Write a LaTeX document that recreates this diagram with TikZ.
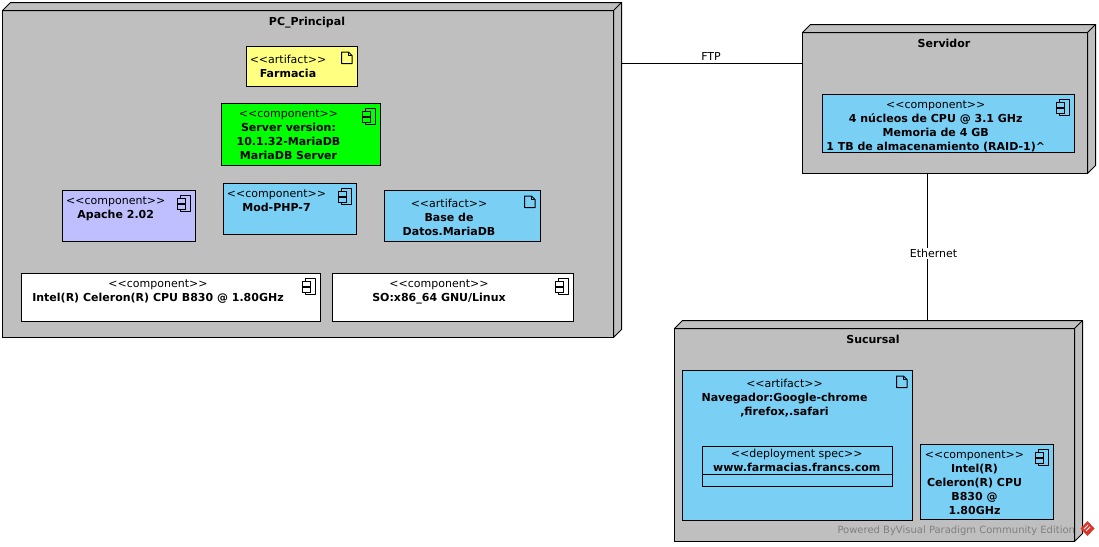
\documentclass[tikz,border=0pt]{standalone}
\usepackage{fontspec}
\usetikzlibrary{backgrounds}
\newfontfamily\vpfont{DejaVu Sans}
\definecolor{nodegray}{HTML}{BFBFBF}
\definecolor{skypop}{HTML}{7ACFF5}
\definecolor{lemonpop}{HTML}{FFFF80}
\definecolor{limepop}{HTML}{00FF00}
\definecolor{lilacpop}{HTML}{BFBFFF}
\definecolor{logopop}{HTML}{D9352B}
\tikzset{
  lbl/.style={inner sep=0pt, outer sep=0pt, anchor=north, align=center, yshift=-1pt, font=\vpfont\fontsize{11}{14}\selectfont},
  vpbox/.style={draw=black, inner sep=0pt, outer sep=0pt, line width=1pt},
  vpnode/.style={vpbox, fill=nodegray},
  compicon/.pic={
    \draw[line width=1pt, line join=round] (-15.5,8) -- (-15.5,5) -- (-5,5) -- (-5,21) -- (-15.5,21) -- (-15.5,18.5) (-15.5,12.5) -- (-15.5,14);
    \draw[line width=1pt] (-18,8) rectangle (-10,12.5);
    \draw[line width=1pt] (-18,14) rectangle (-10,18.5);
  },
  docicon/.pic={
    \draw[line width=1pt, line join=round] (-16,5.5) -- (-9,5.5) -- (-5.5,9) -- (-5.5,17) -- (-16,17) -- cycle;
    \draw[line width=1pt, line join=round] (-9,5.5) -- (-9,9) -- (-5.5,9);
  }
}

\begin{document}
\begin{tikzpicture}[x=1pt,y=-1pt]
\useasboundingbox (0,0) rectangle (1099,546);
\node[vpnode, minimum width=611pt, minimum height=327pt] (pcprincipal) at (308,174) {};
\node[vpnode, minimum width=285pt, minimum height=141pt] (servidor) at (945,103) {};
\node[vpnode, minimum width=400pt, minimum height=213pt] (sucursal) at (874.5,435) {};
\foreach \nm in {pcprincipal,servidor,sucursal} {
  \draw[fill=nodegray, line width=1pt, line join=round] (\nm.north west) -- ++(8,-8) -- ([shift={(8,-8)}]\nm.north east) -- ([shift={(8,-8)}]\nm.south east) -- (\nm.south east) -- (\nm.north east) -- cycle;
  \draw[line width=1pt] (\nm.north east) -- ++(8,-8);
}
\coordinate (ftpmark) at (712,63.5);
\coordinate (ethmark) at (927.5,253);
\begin{scope}[on background layer]
\draw[line width=1pt] (pcprincipal.east |- ftpmark) -- (servidor.west |- ftpmark);
\draw[line width=1pt] (servidor.south -| ethmark) -- (sucursal.north -| ethmark);
\end{scope}
\node[lbl] (ftplabel) at (711,51) {FTP};
\node[lbl, fill=white, inner sep=1pt] (ethlabel) at (933.5,247) {Ethernet};
\node[lbl] (pctitle) at (307,16) {\bfseries PC\_Principal};
\node[lbl] (srvtitle) at (944,38) {\bfseries Servidor};
\node[lbl] (suctitle) at (873,334) {\bfseries Sucursal};

\node[vpbox, fill=lemonpop, minimum width=111pt, minimum height=40pt] (farmacia) at (302,66.5) {};
\pic at (farmacia.north east) {docicon};
\node[lbl] (farmaciatxt) at (288,54.5) {<<artifact>>\\\bfseries Farmacia};

\node[vpbox, fill=limepop, minimum width=159pt, minimum height=62pt] (mariadb) at (301,134.5) {};
\pic at (mariadb.north east) {compicon};
\node[lbl] (mariadbtxt) at (288.5,108.5) {<<component>>\\\bfseries Server version:\\\bfseries 10.1.32-MariaDB\\\bfseries MariaDB Server};

\node[vpbox, fill=lilacpop, minimum width=133pt, minimum height=51pt] (apache) at (129,216) {};
\pic at (apache.north east) {compicon};
\node[lbl] (apachetxt) at (115.7,195.5) {<<component>>\\\bfseries Apache 2.02};

\node[vpbox, fill=skypop, minimum width=133pt, minimum height=51pt] (modphp) at (290,209) {};
\pic at (modphp.north east) {compicon};
\node[lbl] (modphptxt) at (276.5,188.5) {<<component>>\\\bfseries Mod-PHP-7};

\node[vpbox, fill=skypop, minimum width=156pt, minimum height=51pt] (basedatos) at (462.5,216) {};
\pic at (basedatos.north east) {docicon};
\node[lbl] (basedatostxt) at (449,198.5) {<<artifact>>\\\bfseries Base de\\\bfseries Datos.MariaDB};

\node[vpbox, fill=white, minimum width=299pt, minimum height=48pt] (celeron) at (171,297.5) {};
\pic at (celeron.north east) {compicon};
\node[lbl] (celerontxt) at (158,278.5) {<<component>>\\\bfseries Intel(R) Celeron(R) CPU B830 @ 1.80GHz};

\node[vpbox, fill=white, minimum width=241pt, minimum height=48pt] (linux) at (453,297.5) {};
\pic at (linux.north east) {compicon};
\node[lbl] (linuxtxt) at (439,278.5) {<<component>>\\\bfseries SO:x86\_64 GNU/Linux};

\node[vpbox, fill=skypop, minimum width=252pt, minimum height=58pt] (hardware) at (948.5,123.5) {};
\pic at (hardware.north east) {compicon};
\node[lbl] (hardwaretxt) at (935.7,99.5) {<<component>>\\\bfseries 4 núcleos de CPU @ 3.1 GHz\\\bfseries Memoria de 4 GB\\\bfseries 1 TB de almacenamiento (RAID-1)\textasciicircum};

\node[vpbox, fill=skypop, minimum width=230pt, minimum height=150pt] (navegador) at (797.5,445.5) {};
\pic at (navegador.north east) {docicon};
\node[lbl] (navegadortxt) at (784.5,378.5) {<<artifact>>\\\bfseries Navegador:Google-chrome\\\bfseries ,firefox,.safari};

\node[vpbox, fill=skypop, minimum width=190pt, minimum height=40pt] (despliegue) at (797.5,466.5) {};
\coordinate (divmark) at (797.5,474.5);
\draw[line width=1pt] (despliegue.west |- divmark) -- (despliegue.east |- divmark);
\node[lbl] (desplieguetxt) at (796.7,448.5) {<<deployment spec>>\\\bfseries www.farmacias.francs.com};

\node[vpbox, fill=skypop, minimum width=133pt, minimum height=75pt] (cliente) at (987,482) {};
\pic at (cliente.north east) {compicon};
\node[lbl] (clientetxt) at (974.5,449.5) {<<component>>\\\bfseries Intel(R)\\\bfseries Celeron(R) CPU\\\bfseries B830 @\\\bfseries 1.80GHz};

\node[lbl, text=black!50, anchor=east, font=\vpfont\fontsize{10}{14}\selectfont] (marca) at (1075,530) {Powered ByVisual Paradigm Community Edition};
\fill[logopop] (1087.5,521) -- (1094.5,528.5) -- (1087.5,536) -- (1080.5,528.5) -- cycle;
\draw[white, line width=0.8pt] (1084,529) -- (1088,525) (1086,531) -- (1090,527);
\end{tikzpicture}
\end{document}
